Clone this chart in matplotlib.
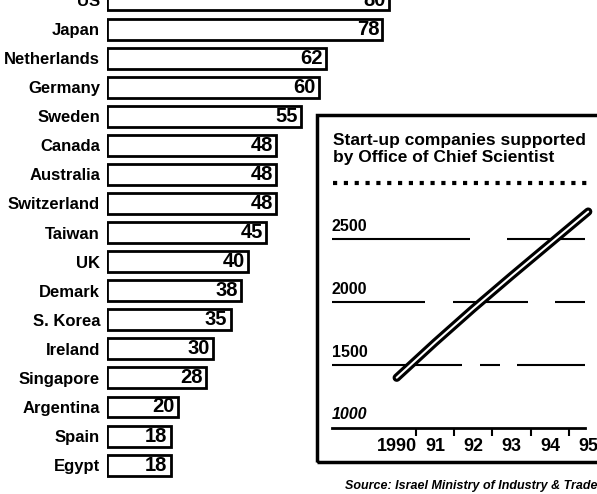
import numpy as np
import matplotlib.pyplot as plt
from matplotlib.lines import Line2D
from matplotlib.patches import Rectangle

countries = ["US", "Japan", "Netherlands", "Germany", "Sweden", "Canada", "Australia",
             "Switzerland", "Taiwan", "UK", "Demark", "S. Korea", "Ireland",
             "Singapore", "Argentina", "Spain", "Egypt"]
values = [80, 78, 62, 60, 55, 48, 48, 48, 45, 40, 38, 35, 30, 28, 20, 18, 18]

years = [1990, 1991, 1992, 1993, 1994, 1995]
startups = [1400, 1680, 1950, 2210, 2465, 2720]
year_labels = ["1990", "91", "92", "93", "94", "95"]
grid_values = [1500, 2000, 2500]
inset_title = "Start-up companies supported\nby Office of Chief Scientist"
source = "Source: Israel Ministry of Industry & Trade"

W, H = 597, 494
fig = plt.figure(figsize=(W / 100, H / 100), dpi=100)
font = ['Liberation Sans', 'DejaVu Sans']

# --- bar chart (rows 29 px apart, first row half cut off by the top edge)
ax = fig.add_axes([107 / W, 0, 293 / W, 1])
ax.set_facecolor('none')
pos = np.arange(len(countries))
ax.barh(pos, values, height=0.72, color='white', edgecolor='black', linewidth=2)
for p, v in zip(pos, values):
    ax.text(v - 0.9, p, str(v), ha='right', va='center', fontsize=14.5,
            fontweight='bold', family=font)
ax.set_xlim(0, 83)
ax.set_ylim(495 / 29.13, 1 / 29.13)
ax.set_yticks(pos)
ax.set_yticklabels(countries, family=font, fontsize=12, fontweight='bold')
ax.tick_params(axis='y', length=0, pad=5)
ax.set_xticks([])
for s in ax.spines.values():
    s.set_visible(False)

# --- inset frame
fig.add_artist(Rectangle((317 / W, 1 - 462 / H), 0.6, (462 - 115) / H,
                         transform=fig.transFigure, fill=False, lw=2.5,
                         edgecolor='black'))
fig.text(333 / W, 1 - 133 / H, inset_title, ha='left', va='top', fontsize=12.5,
         fontweight='bold', family=font, linespacing=1.15)
fig.add_artist(Line2D([333 / W, 588 / W], [1 - 183 / H] * 2, transform=fig.transFigure,
                      lw=3, ls=(0, (1, 1.6)), color='black'))

# --- inset line chart
ins = fig.add_axes([332 / W, 1 - 440 / H, 265 / W, 245 / H])
ins.set_facecolor('none')
x0, x1 = 1988.31, 1994.92
ins.set_xlim(1988.31, 1995.23)
ins.set_ylim(905, 2852)

dash_px = {2500: (138, 37, 78, 50), 2000: (93, 28, 75, 27, 30, 50),
           1500: (130, 18, 20, 17, 68, 50)}
for g in grid_values:
    ins.plot([x0, x1], [g, g], color='black', lw=1.5,
             ls=(0, tuple(d * 0.48 for d in dash_px[g])))

for s in ['top', 'right', 'left']:
    ins.spines[s].set_visible(False)
ins.spines['bottom'].set_position(('data', 1000))
ins.spines['bottom'].set_bounds(x0, x1)
ins.spines['bottom'].set_linewidth(2)
ins.set_yticks([])

ins.set_xticks([y + 0.5 for y in years[:-1]])
ins.tick_params(axis='x', which='major', direction='out', length=6, width=1.5,
                labelbottom=False)
ins.set_xticks(years, year_labels, minor=True)
ins.tick_params(axis='x', which='minor', length=0, pad=7)
for t in ins.get_xticklabels(minor=True):
    t.set_fontfamily(font)
    t.set_fontsize(13)
    t.set_fontweight('bold')

for g in [1000] + grid_values:
    ins.annotate(str(g), (x0, g), xytext=(0, 4), textcoords='offset points',
                 ha='left', va='bottom', fontsize=11.5, fontweight='bold',
                 family=font, style='italic' if g == 1000 else 'normal')

ins.plot(years, startups, color='black', lw=6, solid_capstyle='round')
ins.plot(years, startups, color='white', lw=1.5, solid_capstyle='round')

fig.text(345 / W, 1 - 486 / H, source, ha='left', va='center', fontsize=9,
         fontweight='bold', style='italic', family=font)

fig.savefig('out.png', dpi=100)
